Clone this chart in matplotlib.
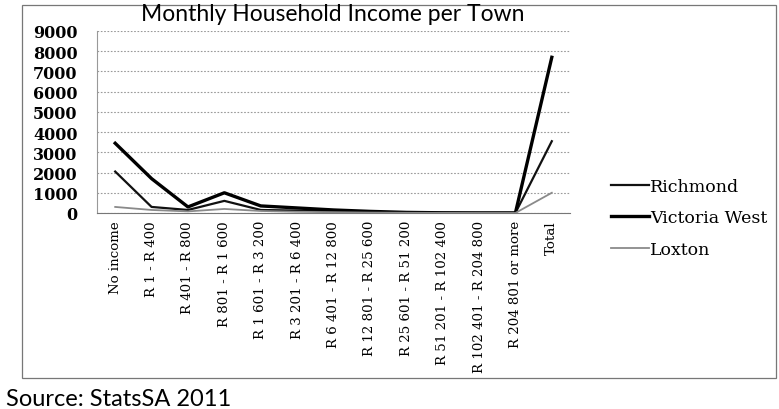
import matplotlib.pyplot as plt
from matplotlib.patches import Rectangle

# monthly income bands, StatsSA census 2011
categories = ['No income', 'R 1 - R 400', 'R 401 - R 800', 'R 801 - R 1 600',
              'R 1 601 - R 3 200', 'R 3 201 - R 6 400', 'R 6 401 - R 12 800',
              'R 12 801 - R 25 600', 'R 25 601 - R 51 200', 'R 51 201 - R 102 400',
              'R 102 401 - R 204 800', 'R 204 801 or more', 'Total']
richmond = [2050, 300, 150, 600, 150, 120, 80, 40, 20, 10, 5, 5, 3550]
victoria_west = [3450, 1700, 300, 1000, 350, 250, 150, 80, 30, 10, 5, 5, 7700]
loxton = [300, 150, 80, 200, 100, 60, 40, 20, 10, 5, 2, 2, 1000]
y_ticks = [0, 1000, 2000, 3000, 4000, 5000, 6000, 7000, 8000, 9000]

fig = plt.figure(figsize=(7.79, 4.10), dpi=100)
W, H = 779, 410

# chart frame
fig.patches.append(Rectangle((22 / W, 1 - 379 / H), 754 / W, 373 / H,
                             transform=fig.transFigure, fill=False,
                             edgecolor='#777777', lw=0.9))

ax = fig.add_axes([97 / W, 1 - 214 / H, 473 / W, 182 / H])
x = list(range(len(categories)))
ax.plot(x, richmond, color='#111111', lw=1.6, label='Richmond')
ax.plot(x, victoria_west, color='#000000', lw=2.4, label='Victoria West')
ax.plot(x, loxton, color='#8a8a8a', lw=1.3, label='Loxton')

ax.set_xlim(-0.5, len(categories) - 0.5)
ax.set_ylim(0, 9000)
ax.set_yticks(y_ticks)
ax.set_yticklabels([str(v) for v in y_ticks], family='DejaVu Serif',
                   fontweight='bold', fontsize=11.5)
ax.set_xticks(x)
ax.set_xticklabels(categories, rotation=90, family='DejaVu Serif', fontsize=9.6)
ax.tick_params(axis='y', length=0, pad=14)
ax.tick_params(axis='x', length=0, pad=5)
ax.grid(axis='y', color='#9a9a9a', lw=0.8, linestyle=(0, (1.5, 1.5)))
ax.set_axisbelow(True)
for side in ['top', 'right']:
    ax.spines[side].set_visible(False)
ax.spines['left'].set_color('#999999')
ax.spines['bottom'].set_color('#777777')

leg = ax.legend(loc='upper left', bbox_to_anchor=(602 / W, 1 - 170 / H),
                bbox_transform=fig.transFigure, frameon=False,
                prop={'family': 'DejaVu Serif', 'size': 12.5},
                handlelength=2.2, handletextpad=0.05, labelspacing=0.85,
                borderpad=0)

fig.text(333 / W, 1 - 21 / H, 'Monthly Household Income per Town',
         ha='center', va='baseline', family='Lato', fontsize=16.5)
fig.text(6 / W, 1 - 406 / H, 'Source: StatsSA 2011', ha='left',
         va='baseline', family='Lato', fontsize=17)

fig.savefig('out.png', dpi=100)
